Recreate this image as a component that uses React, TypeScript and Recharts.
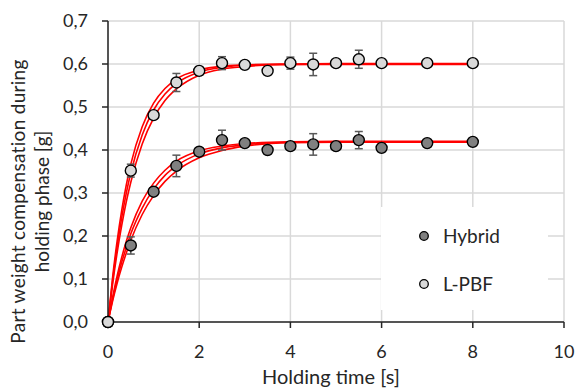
import React from "react";
import {
  ComposedChart,
  Line,
  Scatter,
  ErrorBar,
  XAxis,
  YAxis,
  CartesianGrid,
  Legend,
} from "recharts";

// measured points
const times = [0, 0.5, 1, 1.5, 2, 2.5, 3, 3.5, 4, 4.5, 5, 5.5, 6, 7, 8];
const lpbfValues = [0, 0.352, 0.481, 0.557, 0.584, 0.602, 0.598, 0.584, 0.602, 0.599, 0.602, 0.611, 0.602, 0.602, 0.602];
const lpbfErrors = [0, 0.015, 0.005, 0.021, 0.01, 0.015, 0.005, 0.005, 0.014, 0.026, 0.005, 0.021, 0.005, 0.004, 0.004];
const hybridValues = [0, 0.178, 0.303, 0.363, 0.396, 0.423, 0.416, 0.4, 0.409, 0.413, 0.409, 0.423, 0.405, 0.416, 0.419];
const hybridErrors = [0, 0.02, 0.006, 0.025, 0.008, 0.023, 0.005, 0.005, 0.006, 0.025, 0.004, 0.02, 0.008, 0.004, 0.006];

// fitted curves (centre line + band)
const fitTime = [0, 0.1, 0.2, 0.3, 0.4, 0.5, 0.75, 1, 1.25, 1.5, 2, 2.5, 3, 4, 5, 6, 7, 8];
const lpbfFit = [0, 0.095, 0.175, 0.242, 0.299, 0.347, 0.435, 0.493, 0.53, 0.555, 0.581, 0.592, 0.597, 0.599, 0.6, 0.6, 0.6, 0.6];
const lpbfFitHi = [0, 0.103, 0.188, 0.259, 0.318, 0.367, 0.454, 0.509, 0.543, 0.565, 0.586, 0.595, 0.598, 0.6, 0.601, 0.601, 0.601, 0.601];
const lpbfFitLo = [0, 0.087, 0.161, 0.224, 0.279, 0.325, 0.414, 0.474, 0.515, 0.542, 0.574, 0.588, 0.594, 0.599, 0.599, 0.599, 0.599, 0.599];
const hybridFit = [0, 0.052, 0.098, 0.139, 0.173, 0.205, 0.265, 0.309, 0.341, 0.363, 0.391, 0.405, 0.412, 0.418, 0.419, 0.419, 0.419, 0.419];
const hybridFitHi = [0, 0.057, 0.107, 0.15, 0.187, 0.219, 0.281, 0.323, 0.353, 0.374, 0.398, 0.409, 0.415, 0.419, 0.42, 0.42, 0.42, 0.42];
const hybridFitLo = [0, 0.048, 0.09, 0.127, 0.16, 0.19, 0.25, 0.294, 0.327, 0.351, 0.382, 0.399, 0.409, 0.417, 0.418, 0.418, 0.418, 0.418];

const xTicks = [0, 2, 4, 6, 8, 10];
const yTicks = [0, 0.1, 0.2, 0.3, 0.4, 0.5, 0.6, 0.7];

const seriesNames = ["Hybrid", "L-PBF"];
const seriesFills = ["#808080", "#d9d9d9"];

const FONT = "Lato, 'Open Sans', sans-serif";
const TEXT = "#262626";
const RED = "#ff0000";

const lpbfData = times.map((t, i) => ({ t, v: lpbfValues[i], err: lpbfErrors[i] }));
const hybridData = times.map((t, i) => ({ t, v: hybridValues[i], err: hybridErrors[i] }));
const fitData = fitTime.map((t, i) => ({
  t,
  lpbf: lpbfFit[i],
  lpbfHi: lpbfFitHi[i],
  lpbfLo: lpbfFitLo[i],
  hybrid: hybridFit[i],
  hybridHi: hybridFitHi[i],
  hybridLo: hybridFitLo[i],
}));

const fmt = (v: number) => v.toFixed(1).replace(".", ",");

const Dot = (fill: string) => (props: any) => {
  const { cx, cy } = props;
  if (cx == null || cy == null) return <g />;
  return <circle cx={cx} cy={cy} r={5.5} fill={fill} stroke="#000" strokeWidth={1.4} />;
};

const YTitle = ({ viewBox }: any) => {
  const cy = viewBox.y + viewBox.height / 2 + 30;
  return (
    <g fill={TEXT} fontSize={19} fontFamily={FONT} textAnchor="middle">
      <text x={25} y={cy} letterSpacing={0.3} transform={`rotate(-90, 25, ${cy})`}>
        Part weight compensation during
      </text>
      <text x={49} y={cy} transform={`rotate(-90, 49, ${cy})`}>
        holding phase [g]
      </text>
    </g>
  );
};

const XTitle = ({ viewBox }: any) => (
  <text
    x={viewBox.x + viewBox.width / 2 - 5}
    y={viewBox.y + 62}
    fill={TEXT}
    fontSize={20}
    fontFamily={FONT}
    textAnchor="middle"
  >
    Holding time [s]
  </text>
);

const LegendBox = () => (
  <div style={{ position: "relative", width: "100%", height: "100%", fontFamily: FONT, fontSize: 19, color: TEXT }}>
    {seriesNames.map((name, i) => (
      <div
        key={name}
        style={{ position: "absolute", left: 37, top: 17 + i * 48, display: "flex", alignItems: "center" }}
      >
        <svg width={12} height={12} style={{ marginRight: 13 }}>
          <circle cx={6} cy={6} r={4.3} fill={seriesFills[i]} stroke="#000" strokeWidth={1.3} />
        </svg>
        <span>{name}</span>
      </div>
    ))}
  </div>
);

export default function App() {
  return (
    <div style={{ position: "absolute", left: 0, top: 0, background: "#fff" }}>
      <ComposedChart
        width={577}
        height={388}
        margin={{ top: 21, right: 13, bottom: 0, left: 0 }}
        style={{ fontFamily: FONT }}
      >
        <CartesianGrid stroke="#d9d9d9" strokeWidth={1.5} />
        <XAxis
          type="number"
          dataKey="t"
          domain={[0, 10]}
          ticks={xTicks}
          height={66}
          tickSize={6}
          tickMargin={17}
          tick={{ fill: TEXT, fontSize: 18 }}
          axisLine={{ stroke: "#262626", strokeWidth: 1.5 }}
          tickLine={{ stroke: "#262626", strokeWidth: 1.5 }}
          label={<XTitle />}
        />
        <YAxis
          type="number"
          domain={[0, 0.7]}
          ticks={yTicks}
          width={108}
          tickSize={6}
          tickMargin={14}
          tickFormatter={fmt}
          tick={{ fill: TEXT, fontSize: 18 }}
          axisLine={{ stroke: "#262626", strokeWidth: 1.5 }}
          tickLine={{ stroke: "#262626", strokeWidth: 1.5 }}
          label={<YTitle />}
        />
        {(["lpbfHi", "lpbf", "lpbfLo", "hybridHi", "hybrid", "hybridLo"] as const).map((k) => (
          <Line
            key={k}
            data={fitData}
            dataKey={k}
            type="monotone"
            stroke={RED}
            strokeWidth={1.6}
            dot={false}
            activeDot={false}
            isAnimationActive={false}
            legendType="none"
          />
        ))}
        <Scatter
          name="Hybrid"
          data={hybridData}
          dataKey="v"
          shape={Dot(seriesFills[0])}
          isAnimationActive={false}
        >
          <ErrorBar dataKey="err" direction="y" width={4} stroke="#595959" strokeWidth={1.5} />
        </Scatter>
        <Scatter
          name="L-PBF"
          data={lpbfData}
          dataKey="v"
          shape={Dot(seriesFills[1])}
          isAnimationActive={false}
        >
          <ErrorBar dataKey="err" direction="y" width={4} stroke="#595959" strokeWidth={1.5} />
        </Scatter>
        <Legend
          layout="vertical"
          align="center"
          verticalAlign="middle"
          content={<LegendBox />}
          wrapperStyle={{ left: 381, top: 207, width: 167, height: 103, background: "#fff" }}
        />
      </ComposedChart>
    </div>
  );
}
